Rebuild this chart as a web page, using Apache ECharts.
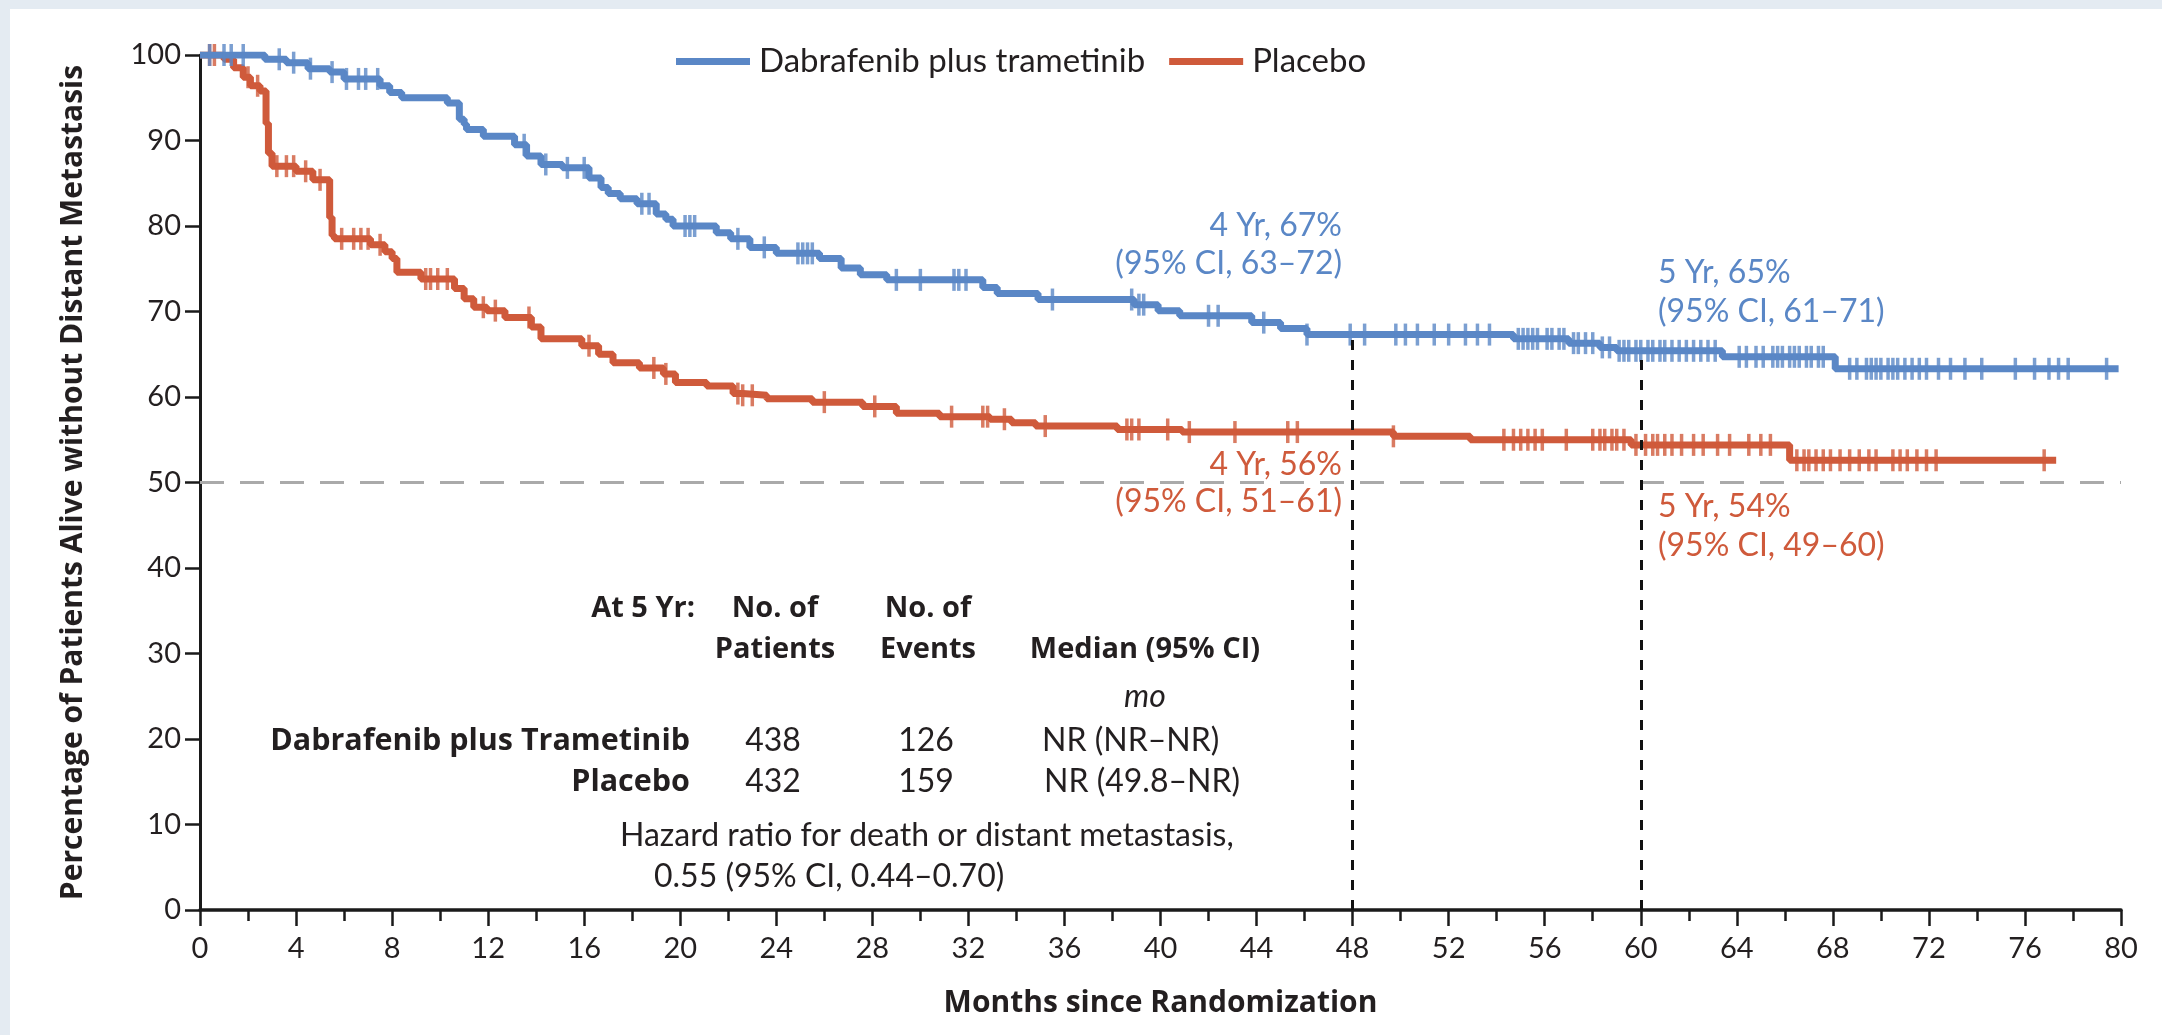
<!DOCTYPE html>
<html><head><meta charset="utf-8">
<script src="https://cdn.jsdelivr.net/npm/echarts@6/dist/echarts.min.js"></script>
<style>html,body{margin:0;padding:0;background:#e4ebf2;overflow:hidden}#c{width:2162px;height:1035px}</style>
</head><body><div id="c"></div>
<script>
// ---------------- data ----------------
const seriesNames = ['Dabrafenib plus trametinib', 'Placebo'];
const xTicks = [0,4,8,12,16,20,24,28,32,36,40,44,48,52,56,60,64,68,72,76,80];
const yTicks = [0,10,20,30,40,50,60,70,80,90,100];

const dtTimes = [0,2.7,3.6,4.5,5.4,6.0,7.5,7.9,8.4,10.3,10.8,11.0,11.1,11.8,13.1,13.6,14.2,15.1,16.2,16.7,17.0,17.5,18.2,19.0,19.4,19.7,21.5,22.1,22.9,24.0,25.8,26.7,27.5,28.6,32.6,33.2,34.9,38.9,39.9,40.8,43.8,45.0,46.1,54.7,57.0,58.3,59.0,63.4,68.1,79.9];
const dtSurv  = [100,99.5,99.1,98.4,98.0,97.2,96.4,95.6,95.0,94.4,92.5,91.9,91.3,90.5,89.5,88.2,87.2,86.8,85.6,84.5,83.8,83.2,82.6,81.4,80.8,80.0,79.2,78.5,77.5,76.8,76.2,75.1,74.3,73.7,72.8,72.1,71.4,70.8,70.1,69.5,68.7,68.0,67.3,66.8,66.3,65.8,65.4,64.7,63.3,63.3];
const dtCensor = [0.4,1.0,1.3,1.8,3.3,3.9,4.6,5.5,6.1,6.6,6.9,7.4,13.5,14.4,15.3,16.0,18.4,18.7,20.2,20.4,20.6,22.4,23.5,24.9,25.1,25.3,25.5,29.0,30.0,31.4,31.6,31.9,35.5,38.8,39.1,39.3,42.0,42.4,44.3,46.1,47.9,48.5,49.8,50.2,50.7,51.4,52.0,52.7,53.2,53.7,54.9,55.1,55.3,55.5,55.7,56.1,56.3,56.6,56.8,57.2,57.4,57.7,58.0,58.4,58.7,59.1,59.3,59.5,59.8,60.0,60.3,60.5,60.8,61.0,61.3,61.6,61.9,62.2,62.5,62.8,63.1,64.1,64.4,64.8,65.1,65.5,65.7,65.9,66.2,66.4,66.6,66.9,67.1,67.4,67.6,68.7,69.0,69.4,69.6,69.8,70.0,70.3,70.5,70.7,71.0,71.3,71.6,71.9,72.4,72.9,73.5,74.2,75.6,76.4,77.0,77.4,77.8,79.4];

const pbTimes = [0,1.0,1.4,1.8,2.1,2.5,2.75,2.85,3.0,4.0,4.7,5.4,5.5,5.6,7.1,7.7,8.0,8.2,9.2,10.6,11.0,11.4,11.95,12.7,13.8,14.2,15.9,16.6,17.2,18.3,19.3,19.8,21.1,22.2,22.6,23.6,25.5,27.6,29.0,30.8,32.9,33.8,34.8,38.2,40.9,49.7,52.9,59.6,66.2,77.3];
const pbSurv  = [100,99.5,98.5,97.4,96.4,95.8,92.0,88.5,87.0,86.4,85.4,81.0,78.9,78.5,77.8,77.0,76.2,74.6,73.8,72.7,71.5,70.5,70.1,69.3,68.2,66.8,66.0,65.0,64.0,63.4,62.7,61.7,61.3,60.4,60.2,59.8,59.4,58.9,58.1,57.7,57.4,57.0,56.6,56.2,55.9,55.4,55.0,54.4,52.6,52.6];
const pbCensor = [0.4,0.6,2.0,2.4,3.2,3.6,3.9,4.4,5.0,5.9,6.4,6.7,7.0,7.5,9.4,9.6,9.9,10.3,11.8,12.3,13.7,16.2,18.9,19.4,22.4,22.6,23.0,26.0,28.1,31.3,32.6,32.8,33.5,35.2,38.6,38.8,39.1,40.3,41.2,43.1,45.3,45.7,49.7,54.3,54.7,55.0,55.3,55.6,55.9,56.9,58.0,58.3,58.5,58.8,59.0,59.3,59.8,60.2,60.5,60.7,61.0,61.3,61.7,62.2,62.6,63.2,63.7,64.5,65.0,65.4,66.5,66.8,67.0,67.3,67.6,67.9,68.3,68.7,69.1,69.5,69.8,70.5,70.8,71.1,71.5,71.9,72.3,76.8];

const landmarkMonths = [48, 60];
const medianLine = 50;
const dtLandmarkText = [['4 Yr, 67%','(95% CI, 63\u201372)'], ['5 Yr, 65%','(95% CI, 61\u201371)']];
const pbLandmarkText = [['4 Yr, 56%','(95% CI, 51\u201361)'], ['5 Yr, 54%','(95% CI, 49\u201360)']];
const tableHeader = ['At 5 Yr:', 'No. of', 'Patients', 'No. of', 'Events', 'Median (95% CI)', 'mo'];
const tableRowLabels = ['Dabrafenib plus Trametinib', 'Placebo'];
const tablePatients = ['438', '432'];
const tableEvents = ['126', '159'];
const tableMedian = ['NR (NR\u2013NR)', 'NR (49.8\u2013NR)'];
const hazardText = ['Hazard ratio for death or distant metastasis,', '0.55 (95% CI, 0.44\u20130.70)'];
const xAxisTitle = 'Months since Randomization';
const yAxisTitle = 'Percentage of Patients Alive without Distant Metastasis';

// ---------------- helpers ----------------
function survAt(times, surv, t) {
  let v = surv[0];
  for (let i = 0; i < times.length; i++) { if (times[i] <= t) v = surv[i]; else break; }
  return v;
}
const BLUE = '#5a87c6', RED = '#cf5a3b', TXT = '#231f20';
const FONT = 'Lato, "Open Sans", "DejaVu Sans", sans-serif';
const BFONT = '"Open Sans", Lato, "DejaVu Sans", sans-serif';
function txt(text, x, y, o) {
  o = o || {};
  return { type: 'text', x: x, y: y, z: 20, silent: true,
    style: { text: text, fill: o.color || TXT, fontSize: o.size || 32, fontFamily: o.bold ? BFONT : FONT,
      fontWeight: o.bold ? 'bold' : 'normal', fontStyle: o.italic ? 'italic' : 'normal',
      align: o.align || 'left', verticalAlign: 'middle' } };
}

const chart = echarts.init(document.getElementById('c'), null, { renderer: 'canvas' });

const graphics = [
  { type: 'rect', shape: { x: 10, y: 9, width: 2152, height: 1026 }, style: { fill: '#ffffff' }, z: -10, silent: true },
  // landmark annotations
  txt(dtLandmarkText[0][0], 1342, 226, { color: BLUE, align: 'right' }),
  txt(dtLandmarkText[0][1], 1342, 264, { color: BLUE, align: 'right' }),
  txt(dtLandmarkText[1][0], 1658, 273, { color: BLUE }),
  txt(dtLandmarkText[1][1], 1658, 312, { color: BLUE }),
  txt(pbLandmarkText[0][0], 1342, 465, { color: RED, align: 'right' }),
  txt(pbLandmarkText[0][1], 1342, 502, { color: RED, align: 'right' }),
  txt(pbLandmarkText[1][0], 1658, 507, { color: RED }),
  txt(pbLandmarkText[1][1], 1658, 546, { color: RED }),
  // table
  txt(tableHeader[0], 695, 609, { bold: true, size: 29, align: 'right' }),
  txt(tableHeader[1], 775, 609, { bold: true, size: 29, align: 'center' }),
  txt(tableHeader[2], 775, 650, { bold: true, size: 29, align: 'center' }),
  txt(tableHeader[3], 928, 609, { bold: true, size: 29, align: 'center' }),
  txt(tableHeader[4], 928, 650, { bold: true, size: 29, align: 'center' }),
  txt(tableHeader[5], 1145, 650, { bold: true, size: 29, align: 'center' }),
  txt(tableHeader[6], 1145, 697, { italic: true, align: 'center' }),
  txt(tableRowLabels[0], 690, 741, { bold: true, size: 30.5, align: 'right' }),
  txt(tableRowLabels[1], 690, 782, { bold: true, size: 30.5, align: 'right' }),
  txt(tablePatients[0], 773, 741, { align: 'center' }),
  txt(tablePatients[1], 773, 782, { align: 'center' }),
  txt(tableEvents[0], 926, 741, { align: 'center' }),
  txt(tableEvents[1], 926, 782, { align: 'center' }),
  txt(tableMedian[0], 1042, 741, {}),
  txt(tableMedian[1], 1044, 782, {}),
  txt(hazardText[0], 620, 836, {}),
  txt(hazardText[1], 654, 877, {})
];

const option = {
  backgroundColor: '#e4ebf2',
  animation: false,
  textStyle: { fontFamily: FONT },
  grid: { left: 200, right: 41, top: 55, bottom: 125, containLabel: false },
  legend: {
    data: seriesNames, left: 671, top: 40, icon: 'rect', itemWidth: 74, itemHeight: 7, itemGap: 24,
    textStyle: { fontSize: 33, color: TXT, fontFamily: FONT, padding: [0, 0, 0, 4] },
    selectedMode: false
  },
  xAxis: {
    type: 'value', min: xTicks[0], max: xTicks[xTicks.length - 1], interval: xTicks[1] - xTicks[0],
    name: xAxisTitle, nameLocation: 'middle', nameGap: 78,
    nameTextStyle: { fontSize: 30, fontWeight: 'bold', color: TXT, fontFamily: BFONT },
    axisLine: { show: true, onZero: false, lineStyle: { color: '#1a1a1a', width: 3.5 } },
    axisTick: { show: true, length: 16, lineStyle: { color: '#1a1a1a', width: 2.5 } },
    minorTick: { show: true, splitNumber: 2, length: 11, lineStyle: { color: '#1a1a1a', width: 2.5 } },
    axisLabel: { fontSize: 29, color: TXT, margin: 24, fontFamily: FONT },
    splitLine: { show: false }
  },
  yAxis: {
    type: 'value', min: yTicks[0], max: yTicks[yTicks.length - 1], interval: yTicks[1] - yTicks[0],
    name: yAxisTitle, nameLocation: 'middle', nameGap: 112, nameRotate: 90,
    nameTextStyle: { fontSize: 30, fontWeight: 'bold', color: TXT, fontFamily: BFONT },
    axisLine: { show: true, onZero: false, lineStyle: { color: '#1a1a1a', width: 3 } },
    axisTick: { show: true, length: 15, lineStyle: { color: '#1a1a1a', width: 2.5 } },
    axisLabel: { fontSize: 29, color: TXT, margin: 19, fontFamily: FONT },
    splitLine: { show: false }
  },
  graphic: graphics,
  series: [
    {
      name: seriesNames[1], type: 'line', step: 'end', showSymbol: false, symbol: 'none', z: 3,
      data: pbTimes.map((t, i) => [t, pbSurv[i]]),
      lineStyle: { color: RED, width: 7 }, itemStyle: { color: RED },
      markLine: {
        silent: true, symbol: ['none', 'none'], label: { show: false },
        lineStyle: { color: '#aaaaaa', width: 3, type: [24, 16] },
        data: [[{ coord: [xTicks[0], medianLine] }, { coord: [xTicks[xTicks.length - 1], medianLine] }]]
      }
    },
    {
      name: 'pbCensor', type: 'scatter', symbol: 'rect', symbolSize: [3.5, 22], z: 3,
      itemStyle: { color: RED }, silent: true,
      data: pbCensor.map(t => [t, survAt(pbTimes, pbSurv, t)])
    },
    {
      name: seriesNames[0], type: 'line', step: 'end', showSymbol: false, symbol: 'none', z: 4,
      data: dtTimes.map((t, i) => [t, dtSurv[i]]),
      lineStyle: { color: BLUE, width: 7 }, itemStyle: { color: BLUE },
      markLine: {
        silent: true, symbol: ['none', 'none'], label: { show: false }, z: 6,
        lineStyle: { color: '#111111', width: 3, type: [10, 10] },
        data: landmarkMonths.map(m => [{ coord: [m, 0] }, { coord: [m, survAt(dtTimes, dtSurv, m)] }])
      }
    },
    {
      name: 'dtCensor', type: 'scatter', symbol: 'rect', symbolSize: [3.5, 22], z: 4,
      itemStyle: { color: BLUE }, silent: true,
      data: dtCensor.map(t => [t, survAt(dtTimes, dtSurv, t)])
    }
  ]
};
chart.setOption(option);
</script></body></html>
